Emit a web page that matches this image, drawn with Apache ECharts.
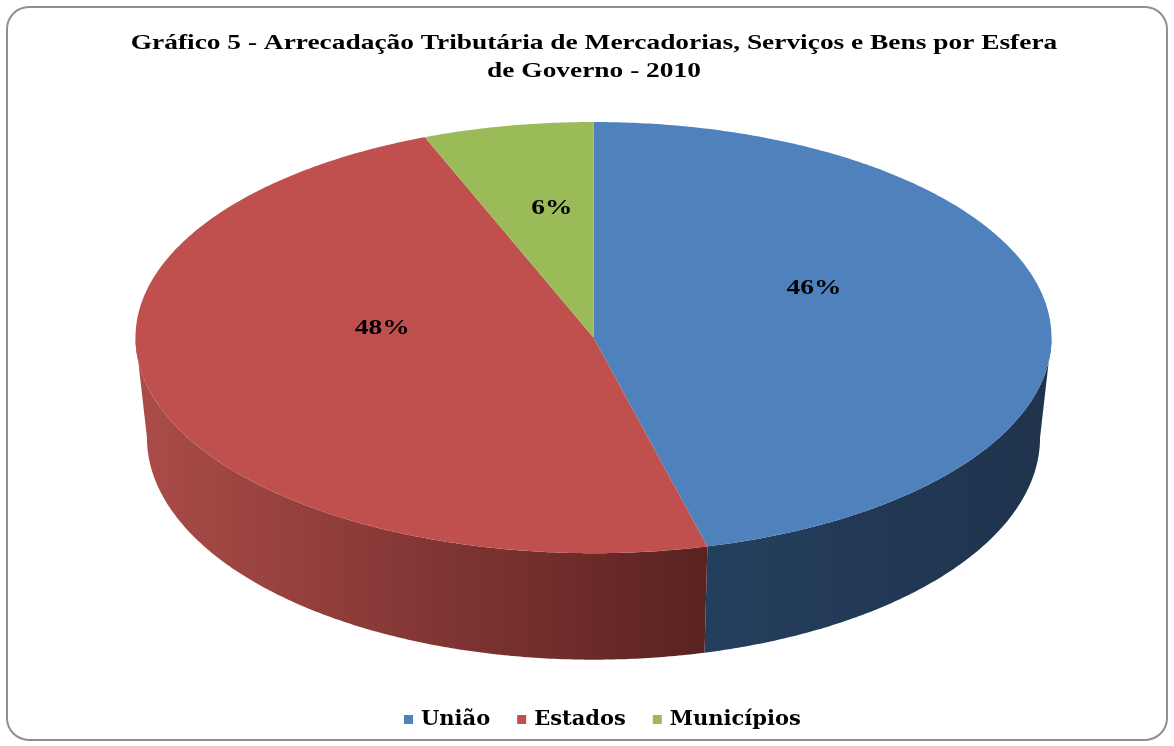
<!DOCTYPE html>
<html>
<head>
<meta charset="utf-8">
<script src="https://cdn.jsdelivr.net/npm/echarts@6/dist/echarts.min.js"></script>
<style>
  html, body { margin: 0; padding: 0; background: #fff; }
  #main { width: 1174px; height: 746px; }
</style>
</head>
<body>
<div id="main"></div>
<script>
var titleLines = [
  "Gráfico 5 - Arrecadação Tributária de Mercadorias, Serviços e Bens por Esfera",
  "de Governo - 2010"
];
var categories = ["União", "Estados", "Municípios"];
var values = [46, 48, 6];
var topColors = ["#4F81BD", "#C0504D", "#9BBB59"];
var sideColors = [["#243F5E", "#1F334C"], ["#AC4C49", "#5A2220"], ["#7E9A45", "#5C7230"]];

// pie geometry (ellipse of the top face, depth of the wall)
var geo = { cx: 593.5, cy: 337.6, rx: 458, ry: 215.6, depth: 100, bx: 0.975, by: 1.03 };
// the source text is drawn a bit wide
var stretch = 1.245;

function pt(deg, cx, cy, a, b) {
  var t = deg * Math.PI / 180;
  return [cx + a * Math.sin(t), cy - b * Math.cos(t)];
}

function renderSlice(idx) {
  return function (params, api) {
    var total = values.reduce(function (s, v) { return s + v; }, 0);
    var start = 0;
    for (var i = 0; i < idx; i++) start += values[i] / total * 360;
    var end = start + values[idx] / total * 360;
    var children = [];

    // side wall, only the front half is visible
    var s0 = Math.max(start, 90), s1 = Math.min(end, 270);
    if (s1 > s0) {
      var side = [], d;
      for (d = s0; d <= s1; d += 0.5) side.push(pt(d, geo.cx, geo.cy, geo.rx, geo.ry));
      side.push(pt(s1, geo.cx, geo.cy, geo.rx, geo.ry));
      side.push(pt(s1, geo.cx, geo.cy + geo.depth, geo.rx * geo.bx, geo.ry * geo.by));
      for (d = s1; d >= s0; d -= 0.5) side.push(pt(d, geo.cx, geo.cy + geo.depth, geo.rx * geo.bx, geo.ry * geo.by));
      side.push(pt(s0, geo.cx, geo.cy + geo.depth, geo.rx * geo.bx, geo.ry * geo.by));
      children.push({
        type: "polygon",
        shape: { points: side },
        style: {
          fill: new echarts.graphic.LinearGradient(0, 0, 1, 0, [
            { offset: 0, color: sideColors[idx][0] },
            { offset: 1, color: sideColors[idx][1] }
          ])
        },
        z2: 1
      });
    }

    // top face
    var top = [[geo.cx, geo.cy]];
    for (var a = start; a <= end; a += 0.5) top.push(pt(a, geo.cx, geo.cy, geo.rx, geo.ry));
    top.push(pt(end, geo.cx, geo.cy, geo.rx, geo.ry));
    children.push({
      type: "polygon",
      shape: { points: top },
      style: { fill: api.visual("color") },
      z2: 2
    });

    // percent label
    var mid = (start + end) / 2;
    var lp = pt(mid, geo.cx, geo.cy, geo.rx * 0.485, geo.ry * 0.43);
    children.push({
      type: "text",
      x: lp[0],
      y: lp[1] - 38,
      scaleX: stretch,
      style: {
        text: Math.round(values[idx] / total * 100) + "%",
        fill: "#000",
        fontSize: 22,
        fontWeight: "bold",
        fontFamily: "Liberation Serif",
        align: "center",
        verticalAlign: "middle"
      },
      z2: 3
    });

    return { type: "group", children: children };
  };
}

var myChart = echarts.init(document.getElementById("main"));
var series = categories.map(function (name, i) {
  return {
    type: "custom",
    name: name,
    coordinateSystem: "none",
    itemStyle: { color: topColors[i] },
    renderItem: renderSlice(i),
    data: [[values[i]]],
    silent: true
  };
});

var titleFont = {
  fill: "#000",
  fontSize: 22,
  fontWeight: "bold",
  fontFamily: "Liberation Serif",
  align: "center",
  verticalAlign: "middle"
};

var option = {
  backgroundColor: "#fff",
  animation: false,
  legend: {
    data: categories,
    bottom: 11,
    left: 399,
    icon: "rect",
    itemWidth: 9,
    itemHeight: 9,
    itemGap: 27,
    textStyle: {
      fontFamily: "DejaVu Serif",
      fontWeight: "bold",
      fontSize: 21,
      color: "#000",
      padding: [0, 0, 0, 3]
    }
  },
  graphic: [
    {
      type: "rect",
      shape: { x: 7, y: 7, width: 1160, height: 733, r: 22 },
      style: { fill: null, stroke: "#8f8f8f", lineWidth: 2 },
      z: -1,
      silent: true
    },
    {
      type: "text",
      x: 594,
      y: 43,
      scaleX: stretch,
      style: Object.assign({ text: titleLines[0] }, titleFont)
    },
    {
      type: "text",
      x: 594,
      y: 71,
      scaleX: stretch,
      style: Object.assign({ text: titleLines[1] }, titleFont)
    }
  ],
  series: series
};
myChart.setOption(option);
</script>
</body>
</html>
